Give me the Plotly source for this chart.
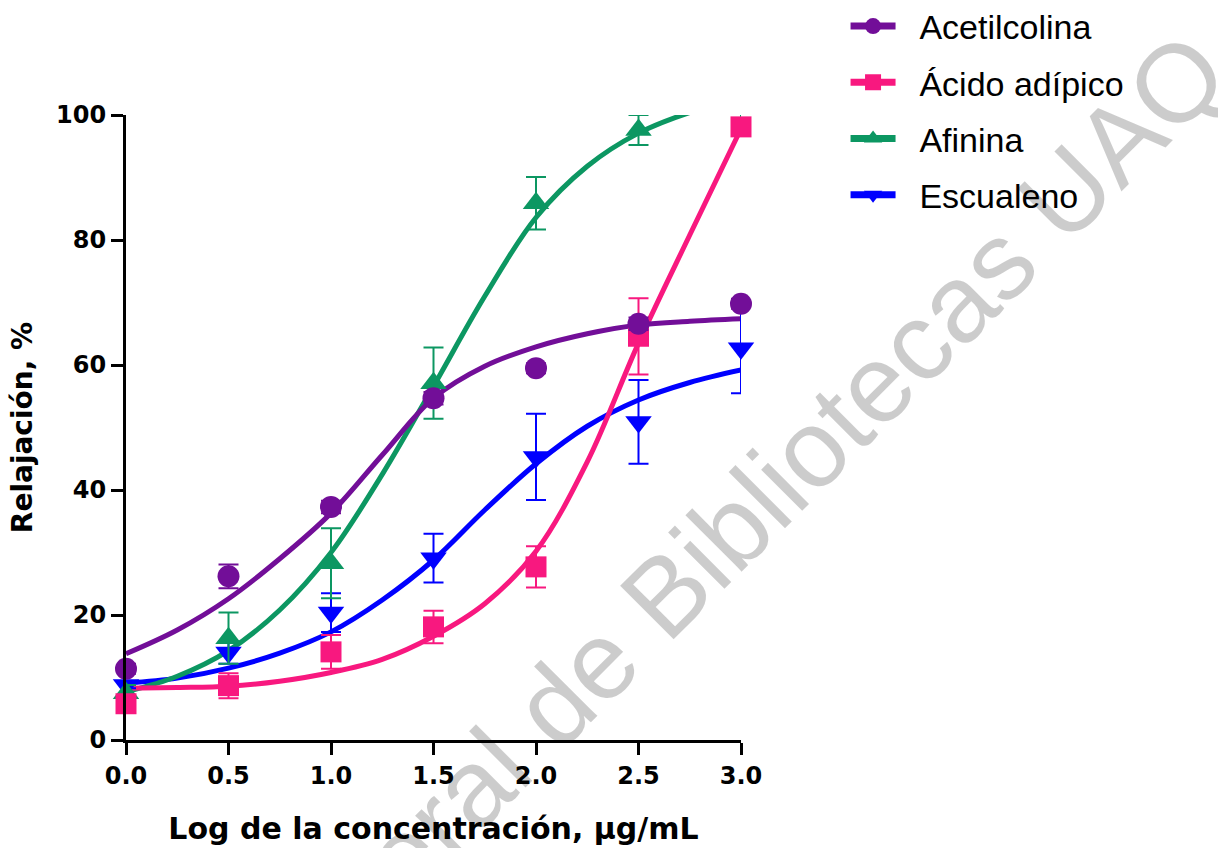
import plotly.graph_objects as go

# ---------------- data ----------------
x_points = [0.0, 0.5, 1.0, 1.5, 2.0, 2.5, 3.0]
x_fit = [0.0, 0.25, 0.5, 0.75, 1.0, 1.25, 1.5, 1.75, 2.0, 2.25, 2.5, 2.75, 3.0]

series_names = ["Acetilcolina", "Ácido adípico", "Afinina", "Escualeno"]

ach_y = [11.4, 26.2, 37.3, 54.7, 59.5, 66.6, 69.8]
ach_err = [0.8, 1.9, 1.0, 1.0, 0.8, 1.0, 0.8]
ach_fit = [13.8, 17.6, 22.6, 29.0, 36.3, 45.6, 54.7, 59.8, 62.9, 65.0, 66.4, 67.0, 67.4]

adi_y = [5.8, 8.7, 14.1, 18.1, 27.7, 64.6, 98.1]
adi_err = [1.0, 2.0, 2.7, 2.6, 3.3, 6.1, 1.0]
adi_fit = [8.3, 8.4, 8.6, 9.4, 10.8, 12.9, 16.6, 21.8, 30.2, 44.5, 63.5, 80.8, 97.8]

afi_y = [7.5, 16.3, 28.3, 57.1, 85.9, 97.6, 100.2]
afi_err = [1.3, 4.1, 5.6, 5.7, 4.2, 2.4, 1.0]
afi_fit = [7.7, 10.2, 14.3, 20.8, 30.0, 42.5, 56.6, 71.0, 83.6, 91.8, 97.1, 100.4, 102.6]

esc_y = [8.8, 14.0, 20.4, 29.1, 45.3, 50.9, 62.7]
esc_err = [0.5, 1.8, 3.1, 3.9, 6.9, 6.7, 7.2]
esc_fit = [9.1, 9.9, 11.5, 13.9, 17.3, 22.4, 28.8, 36.8, 44.2, 50.2, 54.4, 57.2, 59.2]

y_ticks = [0, 20, 40, 60, 80, 100]
x_ticks = [0.0, 0.5, 1.0, 1.5, 2.0, 2.5, 3.0]
x_tick_text = ["0.0", "0.5", "1.0", "1.5", "2.0", "2.5", "3.0"]

watermark = "Dirección General de Bibliotecas UAQ"

# ---------------- styles ----------------
colors = ["#720e98", "#f8187f", "#0c9762", "#0000ff"]
symbols = ["circle", "square", "triangle-up", "triangle-down"]
msizes = [22, 21, 23, 23]
FONT = "Liberation Sans, Arial, sans-serif"
BOLD = "DejaVu Sans, Liberation Sans, Arial, sans-serif"
GAP = "\u00a0\u00a0"

pts = [(ach_y, ach_err), (adi_y, adi_err), (afi_y, afi_err), (esc_y, esc_err)]
fits = [ach_fit, adi_fit, afi_fit, esc_fit]

fig = go.Figure()

# fitted curves (drawn first)
for i in [3, 2, 1, 0]:
    fig.add_trace(go.Scatter(
        x=x_fit, y=fits[i], mode="lines",
        line=dict(color=colors[i], width=5, shape="spline", smoothing=1.0),
        showlegend=False, hoverinfo="skip", cliponaxis=True,
    ))

# data points with error bars: blue, green, pink, purple
for i in [3, 2, 1, 0]:
    yv, ev = pts[i]
    fig.add_trace(go.Scatter(
        x=x_points, y=yv, mode="markers",
        marker=dict(symbol=symbols[i], size=msizes[i], color=colors[i], line=dict(width=0)),
        error_y=dict(type="data", array=ev, visible=True, color=colors[i], thickness=2, width=10),
        showlegend=False, cliponaxis=False,
    ))

# legend entries
for i in range(4):
    fig.add_trace(go.Scatter(
        x=[None], y=[None], mode="lines+markers", name=GAP + series_names[i],
        line=dict(color=colors[i], width=7),
        marker=dict(symbol=symbols[i], size=msizes[i], color=colors[i]),
        legendgroup=series_names[i], legendrank=i + 1,
    ))

fig.add_annotation(
    text=watermark, xref="paper", yref="paper", x=0.685, y=0.045,
    xanchor="center", yanchor="middle", showarrow=False, textangle=-45,
    font=dict(family=FONT, size=110, color="rgba(0,0,0,0.2)"),
)

fig.update_layout(
    width=1218, height=848,
    margin=dict(l=126, r=477, t=115, b=108, autoexpand=False),
    paper_bgcolor="white", plot_bgcolor="white",
    font=dict(family=FONT, color="black"),
    showlegend=True,
    legend=dict(
        x=1.17, y=1.188, xanchor="left", yanchor="top",
        font=dict(family=FONT, size=34, color="black"),
        bgcolor="rgba(0,0,0,0)", tracegroupgap=9, itemwidth=45,
    ),
    xaxis=dict(
        range=[0, 3], tickvals=x_ticks, ticktext=x_tick_text,
        showline=True, linecolor="black", linewidth=3,
        ticks="outside", ticklen=12, tickwidth=3, tickcolor="black",
        showgrid=False, zeroline=False,
        tickfont=dict(family=BOLD, size=24, color="black", weight="bold"),
        title=dict(text="<b>Log de la concentración, µg/mL</b>",
                   font=dict(family=BOLD, size=30, color="black"), standoff=30),
    ),
    yaxis=dict(
        range=[0, 100], tickvals=y_ticks,
        showline=True, linecolor="black", linewidth=3,
        ticks="outside", ticklen=12, tickwidth=3, tickcolor="black",
        showgrid=False, zeroline=False,
        tickfont=dict(family=BOLD, size=24, color="black", weight="bold"),
        title=dict(text="<b>Relajación, %</b>",
                   font=dict(family=BOLD, size=28, color="black"), standoff=16),
    ),
)

fig.write_html("out.html", config={"displayModeBar": False},
               post_script="document.body.style.margin='0';")
